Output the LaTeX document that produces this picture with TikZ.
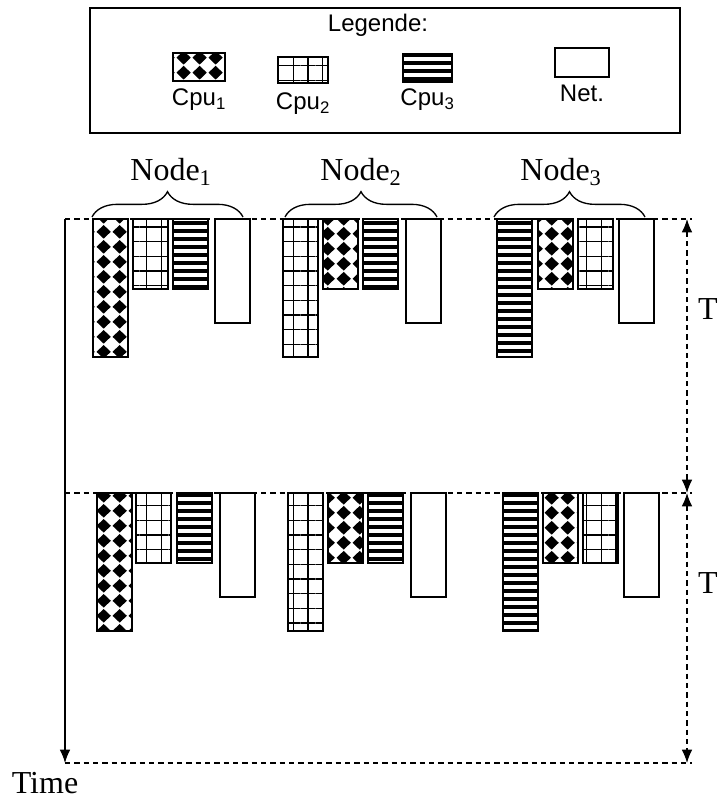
\documentclass[tikz,border=0pt]{standalone}
\usepackage{fontspec}
\setmainfont{Liberation Serif}
\newfontfamily\legendfont{Liberation Sans}
\usetikzlibrary{arrows.meta, patterns.meta, decorations.pathreplacing, positioning}
\newcommand{\pxu}{0.75pt}

\pgfdeclarepattern{
  name=cpudiamonds,
  bottom left={\pgfpoint{0pt}{0pt}},
  top right={\pgfpoint{12pt}{11pt}},
  tile size={\pgfpoint{12pt}{11pt}},
  code={
    \pgfpathmoveto{\pgfpoint{6pt}{0.3pt}}
    \pgfpathlineto{\pgfpoint{11.6pt}{5.5pt}}
    \pgfpathlineto{\pgfpoint{6pt}{10.7pt}}
    \pgfpathlineto{\pgfpoint{0.4pt}{5.5pt}}
    \pgfpathclose
    \pgfusepath{fill}
  }
}

\begin{document}
\begin{tikzpicture}[x=0.75pt, y=-0.75pt,
    >={Latex[length=10pt, width=8pt]},
    every node/.style={inner sep=0pt, outer sep=0pt},
    bar/.style={draw, line width=1.3pt, minimum width=35*\pxu, anchor=north west},
    cpuA/.style={bar, pattern=cpudiamonds},
    cpuB/.style={bar, pattern={Hatch[angle=0, distance=11pt, line width=1.1pt]}},
    cpuC/.style={bar, pattern={Lines[angle=0, distance=6pt, line width=3pt]}},
    netbar/.style={bar, fill=white},
    barlong/.style={minimum height=138*\pxu},
    barshort/.style={minimum height=70*\pxu},
    barnet/.style={minimum height=104*\pxu},
    swatch/.style={draw, line width=1.3pt, anchor=north west},
    legtext/.style={font=\legendfont\fontsize{18}{20}\selectfont},
    lbl/.style={font=\fontsize{24}{28}\selectfont},
    grp/.style={decorate, decoration={brace, amplitude=19pt}, line width=1pt},
    period/.style={dash pattern=on 4pt off 3pt, line width=1pt}
]
\useasboundingbox (0,0) rectangle (720,799);

\node[draw, line width=1.2pt, minimum width=590*\pxu, minimum height=125*\pxu] (legend) at (385,70.5) {};
\node[legtext] (legtitle) at (378,25) {Legende:};
\node[cpuA, minimum width=52*\pxu, minimum height=28*\pxu] (keyA) at (173,53) {};
\node[cpuB, minimum width=50*\pxu, minimum height=26*\pxu] (keyB) at (278,57) {};
\node[cpuC, minimum width=49*\pxu, minimum height=28*\pxu] (keyC) at (403,54) {};
\node[swatch, line width=0.8pt, minimum width=54*\pxu, minimum height=29*\pxu] (keyN) at (555,48) {};
\node[legtext, below=6pt of keyA] (keyAtext) {Cpu\textsubscript{1}};
\node[legtext, below=7.5pt of keyB] (keyBtext) {Cpu\textsubscript{2}};
\node[legtext, below=5pt of keyC] (keyCtext) {Cpu\textsubscript{3}};
\node[legtext, below=6pt of keyN] (keyNtext) {Net.};

\node[cpuA, barlong] (n1cpu1A) at (93,219) {};
\node[cpuB, barshort] (n1cpu2A) at (133,219) {};
\node[cpuC, barshort] (n1cpu3A) at (173,219) {};
\node[netbar, barnet] (n1netA) at (215,219) {};
\node[cpuB, barlong] (n2cpu2A) at (283,219) {};
\node[cpuA, barshort] (n2cpu1A) at (323,219) {};
\node[cpuC, barshort] (n2cpu3A) at (363,219) {};
\node[netbar, barnet] (n2netA) at (406,219) {};
\node[cpuC, barlong] (n3cpu3A) at (497,219) {};
\node[cpuA, barshort] (n3cpu1A) at (538,219) {};
\node[cpuB, barshort] (n3cpu2A) at (578,219) {};
\node[netbar, barnet] (n3netA) at (619,219) {};

\node[cpuA, barlong] (n1cpu1B) at (97,493) {};
\node[cpuB, barshort] (n1cpu2B) at (136,493) {};
\node[cpuC, barshort] (n1cpu3B) at (177,493) {};
\node[netbar, barnet] (n1netB) at (220,493) {};
\node[cpuB, barlong] (n2cpu2B) at (288,493) {};
\node[cpuA, barshort] (n2cpu1B) at (328,493) {};
\node[cpuC, barshort] (n2cpu3B) at (368,493) {};
\node[netbar, barnet] (n2netB) at (411,493) {};
\node[cpuC, barlong] (n3cpu3B) at (503,493) {};
\node[cpuA, barshort] (n3cpu1B) at (543,493) {};
\node[cpuB, barshort] (n3cpu2B) at (583,493) {};
\node[netbar, barnet] (n3netB) at (624,493) {};

\draw[grp] (92,217) -- (243,217);
\draw[grp] (285,217) -- (437,217);
\draw[grp] (494,217) -- (645,217);
\node[lbl] (node1) at (171,172) {Node\textsubscript{1}};
\node[lbl] (node2) at (361,172) {Node\textsubscript{2}};
\node[lbl] (node3) at (561,172) {Node\textsubscript{3}};

\coordinate (top0) at (65,219);
\coordinate (top1) at (65,493);
\coordinate (top2) at (65,763);
\coordinate (end0) at (692,219);
\coordinate (end1) at (692,493);
\coordinate (end2) at (692,763);
\coordinate (tick0) at (687,219);
\coordinate (tick1) at (687,493);
\coordinate (tick2) at (687,763);

\draw[period] (top0) -- (end0);
\draw[period] (top1) -- (end1);
\draw[period] (top2) -- (end2);
\draw[->, line width=1pt] (top0) -- (top2);
\draw[period, <->] (tick0) -- (tick1);
\draw[period, <->] (tick1) -- (tick2);

\node[lbl] (periodA) at (708,309) {T};
\node[lbl] (periodB) at (708,583) {T};
\node[lbl] (timetext) at (45,783) {Time};
\end{tikzpicture}
\end{document}
